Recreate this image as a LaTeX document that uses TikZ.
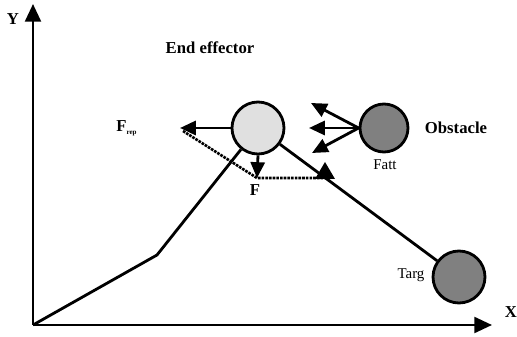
\documentclass[tikz,border=0pt]{standalone}
\usepackage{fontspec}
\setmainfont{Liberation Serif}
\usetikzlibrary{arrows.meta}
\begin{document}
\begin{tikzpicture}[x=0.02cm,y=-0.02cm,
  ln/.style={line width=1.6pt},
  tip/.style={-{Triangle[length=9pt,width=8pt]}},
  dots/.style={line width=1.5pt,dash pattern=on 1.5pt off 0.6pt},
  ball/.style={circle,draw,line width=1.6pt,inner sep=0pt},
  lbl/.style={font=\fontsize{9.5}{11}\selectfont\bfseries,inner sep=0pt},
  slbl/.style={font=\fontsize{8.5}{10}\selectfont,inner sep=0pt}]
\useasboundingbox (0,0) rectangle (517,337);
% axes
\coordinate (O) at (33,325);
\coordinate (Ytop) at (33,4);
\coordinate (Xend) at (492,325);
\draw[line width=1.4pt,-{Triangle[length=10pt,width=9pt]}] (O) -- (Ytop);
\draw[line width=1.4pt,-{Triangle[length=10pt,width=9pt]}] (O) -- (Xend);
\node[lbl] (Y) at (13,19) {Y};
\node[lbl] (X) at (511,312) {X};
% balls
\node[ball,fill=black!12,minimum size=1.04cm] (ee) at (258,128) {};
\node[ball,fill=black!50,minimum size=0.96cm] (obs) at (384,128) {};
\node[ball,fill=black!50,minimum size=1.04cm] (targ) at (459,277) {};
% trajectory
\coordinate (K) at (157,255);
\draw[ln] (O) -- (K) -- (ee);
\draw[ln] (ee) -- (targ);
% forces at end effector
\coordinate (Frep) at (180,128);
\coordinate (Fend) at (257,178);
\coordinate (Hend) at (330,178);
\draw[ln,tip] (ee.west) -- (Frep);
\draw[ln,tip] (ee.south) -- (Fend);
\draw[dots] (183,131) -- (Fend) -- (Hend);
\fill (325,162) -- (335,179) -- (315,179) -- cycle;
% obstacle forces
\coordinate (o1) at (311,103);
\coordinate (o2) at (309,128);
\coordinate (o3) at (312,153);
\draw[ln,tip] (obs.west) -- (o1);
\draw[ln,tip] (obs.west) -- (o2);
\draw[ln,tip] (obs.west) -- (o3);
% labels
\node[lbl] (eel) at (210,48) {End effector};
\node[lbl] (obsl) at (456,128) {Obstacle};
\node[slbl] (fatt) at (385,165) {Fatt};
\node[slbl] (targl) at (411,275) {Targ};
\node[lbl,anchor=base west] (frepl) at (116,132) {F\raisebox{-1.5pt}{\fontsize{4}{4}\selectfont rep}};
\node[lbl] (fl) at (255,190) {F};
\end{tikzpicture}
\end{document}
